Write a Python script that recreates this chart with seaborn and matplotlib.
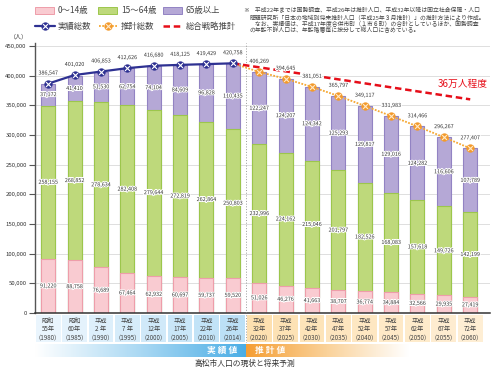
import numpy as np
import pandas as pd
import matplotlib
matplotlib.use("Agg")
import matplotlib.pyplot as plt
import matplotlib.patheffects as pe
from matplotlib.patches import Rectangle
from matplotlib.lines import Line2D
from matplotlib.colors import LinearSegmentedColormap
import seaborn as sns

# ─── Data ─────────────────────────────────────────────────────────────────────
ERA = ["昭和", "昭和", "平成", "平成", "平成", "平成", "平成", "平成",
       "平成", "平成", "平成", "平成", "平成", "平成", "平成", "平成", "平成"]
NEN = ["55年", "60年", "2 年", "7 年", "12年", "17年", "22年", "26年",
       "32年", "37年", "42年", "47年", "52年", "57年", "62年", "67年", "72年"]
YEARS = [1980, 1985, 1990, 1995, 2000, 2005, 2010, 2014,
         2020, 2025, 2030, 2035, 2040, 2045, 2050, 2055, 2060]
POP_0_14 = [91220, 88758, 76689, 67464, 62932, 60697, 59737, 59520,
            51026, 46276, 41663, 38707, 36774, 34884, 32566, 29935, 27419]
POP_15_64 = [258155, 268852, 278634, 282408, 279644, 272819, 262864, 250803,
             232996, 224162, 215046, 201797, 182526, 168083, 157618, 149726, 142199]
POP_65 = [37172, 41410, 51530, 62754, 74104, 84609, 96828, 110435,
          122247, 124207, 124342, 125293, 129817, 129016, 124282, 116606, 107789]
POP_TOTAL = [386547, 401020, 406853, 412626, 416680, 418125, 419429, 420758,
             406269, 394645, 381051, 365797, 349117, 331983, 314466, 296267, 277407]
N_ACTUAL = 8   # 1980..2014 are 実績値, the rest 推計値
STRATEGY_YEARS = [2014, 2060]
STRATEGY_POP = [420758, 360000]

# ─── Style ────────────────────────────────────────────────────────────────────
PINK, PINK_E = "#F9CBD1", "#EE9DAA"
GREEN, GREEN_E = "#BED97B", "#9CC64C"
PURPLE, PURPLE_E = "#B5A8D6", "#9283C3"
NAVY = "#2E3192"
ORANGE = "#F6A833"
RED = "#E60E19"
TXT = "#333333"

sns.set_theme(style="ticks")
plt.rcParams["font.family"] = ["Noto Sans CJK JP", "DejaVu Sans"]

df = pd.DataFrame({
    "year": [str(y) for y in YEARS],
    "child": POP_0_14, "work": POP_15_64, "old": POP_65, "total": POP_TOTAL,
})
df["cw"] = df["child"] + df["work"]
df["stack"] = df["cw"] + df["old"]
n = len(df)

fig = plt.figure(figsize=(5.0, 3.69), dpi=100)
L, B, W, H = 35 / 500, 1 - 313 / 369, 455 / 500, 270 / 369
ax = fig.add_axes([L, B, W, H])

# ── stacked bars (drawn back to front) ───────────────────────────────────────
bar_kw = dict(x="year", errorbar=None, width=0.53, saturation=1, linewidth=0.8, ax=ax)
sns.barplot(data=df, y="stack", color=PURPLE, edgecolor=PURPLE_E, **bar_kw)
sns.barplot(data=df, y="cw", color=GREEN, edgecolor=GREEN_E, **bar_kw)
sns.barplot(data=df, y="child", color=PINK, edgecolor=PINK_E, **bar_kw)

# ── totals lines ─────────────────────────────────────────────────────────────
xs = np.arange(n)
tot = df["total"].to_numpy()
xa = xs[:N_ACTUAL]
ax.plot(xa, tot[:N_ACTUAL], color=NAVY, lw=1.6, zorder=5)
ax.scatter(xa, tot[:N_ACTUAL], s=36, color=NAVY, zorder=6, linewidths=0)
ax.scatter(xa, tot[:N_ACTUAL], s=13, marker="x", color="white", linewidths=0.8, zorder=7)

xp = xs[N_ACTUAL - 1:]
ax.plot(xp, tot[N_ACTUAL - 1:], color=ORANGE, lw=1.3, ls=(0, (1, 0.8)), zorder=4)
ax.scatter(xp[1:], tot[N_ACTUAL:], s=36, color="#F39A2C", zorder=6, linewidths=0)
ax.scatter(xp[1:], tot[N_ACTUAL:], s=13, marker="x", color="#FFE9C8", linewidths=0.8, zorder=7)

sx = [YEARS.index(y) for y in STRATEGY_YEARS]
ax.plot(sx, STRATEGY_POP, color=RED, lw=1.8, ls=(0, (2.6, 1.5)), zorder=4)

# ── value labels ─────────────────────────────────────────────────────────────
halo = [pe.withStroke(linewidth=1.4, foreground="white")]
lab_kw = dict(ha="center", va="center", fontsize=3.9, color=TXT, path_effects=halo, zorder=8)
for i, r in df.iterrows():
    ax.text(i, r["child"] / 2, f"{r['child']:,}", **lab_kw)
    ax.text(i, r["child"] + r["work"] / 2, f"{r['work']:,}", **lab_kw)
    ax.text(i, r["cw"] + r["old"] / 2, f"{r['old']:,}", **lab_kw)
    ax.annotate(f"{r['total']:,}", (i, r["total"]), xytext=(0, 7.6),
                textcoords="offset points", **lab_kw)

# ── axes cosmetics ───────────────────────────────────────────────────────────
ax.set_xlim(-0.5, 16.75)
ax.set_ylim(0, 455000)
ax.set_yticks(range(0, 450001, 50000))
ax.set_yticklabels([f"{v:,}" for v in range(0, 450001, 50000)])
ax.set_xticks([])
ax.set_xlabel("")
ax.set_ylabel("")
ax.tick_params(axis="y", length=4, width=0.8, color="#555555",
               labelsize=4.3, pad=2, labelcolor=TXT)
ax.yaxis.grid(True, color="#D9D9D9", lw=0.6)
ax.set_axisbelow(True)
for s in ["top", "right"]:
    ax.spines[s].set_visible(False)
ax.spines["left"].set_color("#555555")
ax.spines["left"].set_linewidth(1.0)
ax.spines["bottom"].set_color("#333333")
ax.spines["bottom"].set_linewidth(1.1)
ax.axvline(N_ACTUAL - 0.5, color="#9A9A9A", lw=0.7, ls=(0, (1, 1.8)), zorder=3)

# ── category cells under the axis ────────────────────────────────────────────
cax = fig.add_axes([L, 1 - 343 / 369, W, 29 / 369])
cax.set_xlim(ax.get_xlim())
cax.set_ylim(0, 1)
cax.axis("off")
blue_cells = sns.blend_palette(["#EAF5FD", "#BCE0F6"], N_ACTUAL)
orange_cells = sns.blend_palette(["#FDE0B0", "#FEEED4"], n - N_ACTUAL)
cell_colors = list(blue_cells) + list(orange_cells)
for i in range(n):
    cax.add_patch(Rectangle((i - 0.47, 0.02), 0.94, 0.96, fc=cell_colors[i], ec="none"))
    ck = dict(ha="center", va="center", fontsize=4.5, color="#444444")
    cax.text(i, 0.76, ERA[i], **ck)
    cax.text(i, 0.48, NEN[i], **ck)
    cax.text(i, 0.19, f"（{YEARS[i]}）", **ck)
cax.axvline(N_ACTUAL - 0.5, color="#9A9A9A", lw=0.7, ls=(0, (1, 1.8)))

# ── 実績値 / 推計値 band ──────────────────────────────────────────────────────
bax = fig.add_axes([L, 1 - 357 / 369, W, 13 / 369])
grad = np.linspace(0, 1, 256)[None, :]
cm_blue = LinearSegmentedColormap.from_list("b", ["#FFFFFF", "#A9D8F3", "#4AADE5"])
cm_orng = LinearSegmentedColormap.from_list("o", ["#F59E34", "#FAD29A", "#FFFFFF", "#FFFFFF"])
bax.imshow(grad, extent=(-0.5, N_ACTUAL - 0.5, 0, 1), cmap=cm_blue, aspect="auto")
bax.imshow(grad, extent=(N_ACTUAL - 0.5, 16.75, 0, 1), cmap=cm_orng, aspect="auto")
bax.set_xlim(ax.get_xlim())
bax.set_ylim(0, 1)
bax.axis("off")
bax.text(6.6, 0.5, "実 績 値", ha="center", va="center", fontsize=6.3,
         color="white", fontweight="bold")
bax.text(8.4, 0.5, "推 計 値", ha="center", va="center", fontsize=6.3,
         color="white", fontweight="bold")

# ── overlay in pixel coords: legend, notes, captions ─────────────────────────
ov = fig.add_axes([0, 0, 1, 1])
ov.set_xlim(0, 500)
ov.set_ylim(369, 0)
ov.axis("off")

leg_fs = 6.0
for x0, fc, ec, label in [(35, PINK, PINK_E, "0～14歳"),
                          (98, GREEN, GREEN_E, "15～64歳"),
                          (163, PURPLE, PURPLE_E, "65歳以上")]:
    ov.add_patch(Rectangle((x0, 7), 19, 6.5, fc=fc, ec=ec, lw=0.7))
    ov.text(x0 + 23, 10.3, label, fontsize=leg_fs, va="center", color="#444444")

ov.add_line(Line2D([35, 55], [26, 26], color=NAVY, lw=1.6))
ov.scatter([45], [26], s=36, color=NAVY, linewidths=0, zorder=5)
ov.scatter([45], [26], s=13, marker="x", color="white", linewidths=0.8, zorder=6)
ov.text(58, 26, "実績総数", fontsize=leg_fs, va="center", color="#444444")

ov.add_line(Line2D([99, 117], [26, 26], color=ORANGE, lw=1.3, ls=(0, (1, 0.8))))
ov.scatter([108], [26], s=36, color="#F39A2C", linewidths=0, zorder=5)
ov.scatter([108], [26], s=13, marker="x", color="#FFE9C8", linewidths=0.8, zorder=6)
ov.text(121, 26, "推計総数", fontsize=leg_fs, va="center", color="#444444")

ov.add_line(Line2D([163, 182], [26, 26], color=RED, lw=1.8, ls=(0, (2.6, 1.5))))
ov.text(186, 26, "総合戦略推計", fontsize=leg_fs, va="center", color="#444444")

notes = [
    "　平成22年までは国勢調査、平成26年は推計人口、平成32年以降は国立社会保障・人口",
    "問題研究所「日本の地域別将来推計人口（平成25年３月推計）」の推計方法により作成。",
    "　なお、実績値は、平成17年度合併市町（１市６町）の合計としているほか、国勢調査",
    "の年齢不詳人口は、年齢階層毎に按分して総人口に含めている。",
]
ov.text(243, 10.5, "※", fontsize=4.2, va="center", color="#444444")
for k, line in enumerate(notes):
    ov.text(249, 10.5 + 6.4 * k, line, fontsize=4.2, va="center", color="#444444")

ov.text(19, 37, "（人）", fontsize=4.3, ha="center", va="center", color=TXT)
ov.text(463, 84, "36万人程度", fontsize=7, ha="center", va="center", color=RED)
ov.text(245, 364, "高松市人口の現状と将来予測", fontsize=5.6, ha="center",
        va="center", color="#333333")

fig.savefig("out.png", dpi=100, facecolor="white")
